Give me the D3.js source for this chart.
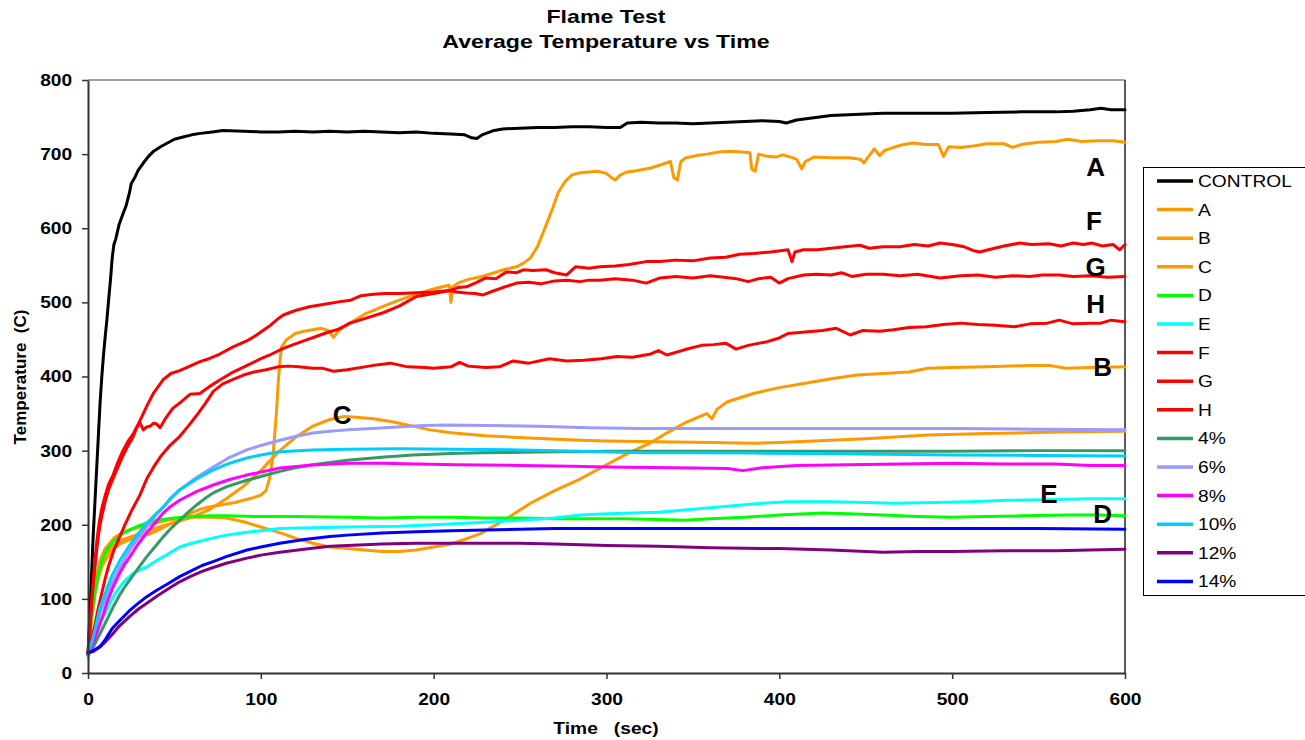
<!DOCTYPE html>
<html>
<head>
<meta charset="utf-8">
<script src="https://cdn.jsdelivr.net/npm/d3@7"></script>
<style>
  body { margin: 0; background: #fff; }
  svg { display: block; font-family: Arial, "Liberation Sans", sans-serif; }
</style>
</head>
<body>
<svg width="1305" height="740"></svg>
<script>
// ---- data: [time (sec), temperature (C)] ----
var control = [[0,25],[1,75],[2,130],[3,185],[4,230],[5,275],[6,320],[7,365],[8,400],[9,430],[10,455],[11,478],[12,505],[13,530],[14,560],[15,578],[16,585],[17,595],[18,605],[20,618],[22,630],[24,648],[25,660],[27,668],[29,678],[32,688],[35,697],[38,704],[42,710],[46,715],[50,720],[55,723],[60,726],[65,728],[72,730],[78,732],[90,731],[100,730],[110,730],[120,731],[130,730],[140,731],[150,730],[160,731],[170,730],[180,729],[190,730],[200,728],[210,727],[218,726],[222,722],[225,721],[228,726],[235,732],[240,734],[250,735],[260,736],[270,736],[280,737],[290,737],[300,736],[308,736],[312,742],[320,743],[330,742],[340,742],[350,741],[360,742],[370,743],[380,744],[390,745],[400,744],[404,742],[410,746],[420,749],[430,752],[440,753],[450,754],[460,755],[480,755],[500,755],[520,756],[540,757],[560,757],[570,758],[580,760],[586,762],[592,760],[600,760]];

var seriesA = [[0,25],[2,70],[4,105],[6,128],[8,143],[10,152],[13,162],[16,170],[20,176],[25,181],[30,184],[35,187],[40,192],[45,198],[50,204],[55,210],[60,216],[65,221],[70,224],[75,226],[80,228],[85,230],[90,233],[95,236],[100,240],[103,246],[105,262],[107,292],[109,350],[110,390],[111,420],[112,440],[115,450],[120,458],[125,461],[130,463],[135,465],[139,462],[142,453],[145,462],[150,470],[155,477],[160,484],[165,489],[170,494],[180,503],[190,511],[200,518],[205,521],[209,523],[210,500],[211,521],[215,527],[220,531],[228,535],[235,540],[242,545],[248,548],[252,553],[256,560],[260,575],[263,592],[266,610],[269,628],[272,648],[276,663],[280,672],[285,675],[290,676],[295,677],[300,674],[303,668],[305,665],[308,672],[312,676],[318,678],[325,681],[332,686],[337,690],[339,668],[341,665],[343,690],[346,695],[352,698],[358,700],[365,703],[372,704],[378,703],[383,702],[384,680],[386,677],[388,700],[393,697],[398,696],[402,699],[408,695],[410,693],[413,680],[415,690],[420,696],[430,695],[440,695],[447,693],[449,688],[451,695],[455,707],[458,698],[461,705],[470,712],[477,715],[485,713],[492,713],[495,697],[498,710],[505,709],[512,711],[520,714],[530,714],[535,709],[540,713],[550,716],[560,717],[567,720],[575,717],[585,718],[593,718],[600,716]];

var seriesB = [[0,25],[2,80],[4,118],[6,142],[8,158],[10,168],[15,182],[20,190],[30,197],[40,203],[50,208],[60,210],[70,210],[80,209],[90,204],[100,197],[110,190],[120,182],[130,175],[140,170],[150,168],[160,166],[170,164],[180,164],[190,166],[200,170],[210,174],[220,182],[227,188],[240,205],[256,229],[270,246],[285,262],[300,281],[312,296],[325,310],[335,324],[345,337],[358,350],[361,343],[364,356],[370,366],[385,377],[400,385],[415,391],[430,397],[445,402],[460,404],[475,406],[486,411],[500,412],[520,413],[546,415],[556,415],[566,411],[580,412],[600,413]];

var seriesC = [[0,25],[2,72],[4,110],[6,135],[8,150],[10,160],[15,172],[20,180],[30,188],[40,196],[50,203],[60,210],[70,220],[80,235],[90,252],[100,273],[110,298],[120,318],[130,333],[140,342],[148,346],[155,345],[165,343],[176,339],[190,332],[198,328],[210,324],[230,320],[246,318],[265,316],[285,314],[300,313],[330,312],[360,311],[385,310],[400,311],[420,313],[450,316],[486,321],[520,323],[560,325],[600,326]];

var seriesD = [[0,25],[2,75],[4,110],[6,135],[8,150],[10,162],[12,170],[15,178],[20,188],[25,194],[30,199],[35,203],[40,206],[50,209],[60,211],[70,212],[80,212],[100,211],[120,211],[150,210],[170,209],[190,210],[210,210],[230,209],[250,209],[270,208],[290,208],[310,208],[330,207],[345,206],[360,208],[380,210],[400,213],[425,216],[440,215],[460,213],[480,211],[500,210],[520,211],[540,212],[566,213],[585,213],[600,212]];

var seriesE = [[0,20],[2,40],[4,55],[6,65],[8,73],[10,80],[13,96],[16,108],[19,118],[22,126],[26,134],[30,139],[34,143],[40,152],[46,160],[53,170],[60,175],[72,182],[80,186],[92,190],[100,192],[111,195],[130,196],[150,197],[180,198],[200,200],[227,203],[250,206],[270,209],[285,213],[300,215],[330,217],[345,220],[370,225],[390,229],[405,231],[430,231],[450,230],[466,229],[490,230],[510,231],[532,233],[560,234],[580,235],[600,235]];

var seriesF = [[0,25],[1,60],[2,95],[3,125],[4,150],[5,175],[6,195],[7,210],[8,222],[10,240],[12,255],[14.5,267],[17,283],[20,299],[23,312],[26,322],[30,340],[34,360],[38,378],[43.6,396],[48,404],[53,408],[58,413],[64.8,420],[70,424],[76,430],[84,440],[91.8,448],[97.6,456],[100,460],[105,468],[110,478],[113,483],[120,489],[128,494],[136,497],[145.8,501],[152,503],[158,509],[165,511],[172,512],[180.5,512],[190,513],[199.6,514],[209.5,516],[214,520],[219,521],[225,527],[230,533],[236,532],[242,541],[248,540],[252,544],[257.5,543],[265,544],[270,540],[277,537],[282,548],[290,546],[296,548],[305,549],[313,551],[323,555],[331,555],[340,557],[350,556],[360,560],[369,561],[377,565],[385,566],[395,568],[405,571],[407.3,555],[409,568],[414,571],[422,571],[430,573],[438,575],[446.7,577],[452,573],[460,575],[469.8,575],[478,578],[486,576],[493,580],[500,578],[507,575],[512,570],[516,568],[521,571],[530,576],[539,580],[546,578],[556,579],[563,576],[570,580],[576,578],[581,580],[587,576],[593,578],[597,571],[600,578]];

var seriesG = [[0,25],[1,55],[2,90],[3,118],[4,142],[5,165],[6,185],[7,200],[8,212],[10,232],[12,248],[14.5,262],[17,276],[20,292],[23,306],[26,318],[28,330],[30,338],[32,328],[34,332],[36,333],[38,337],[39.7,336],[41.7,331],[45,344],[49,357],[54,366],[59,376],[64.8,377],[70,386],[76,395],[84,406],[93,416],[100,424],[106,430],[113,438],[120,444],[126,449],[132,454],[138,459],[145,464],[151.6,472],[160,478],[170.8,486],[180,495],[190,508],[200,512],[209.5,516],[213,514],[219,512.6],[224,512],[228.6,510],[234,515],[240,520],[248,526],[255,527],[262,525],[270,529],[277,530],[284.7,528],[290,530],[296,530],[305,532],[315,530],[323,526],[331,533],[340,535],[350,533],[360,536],[368,534],[375,532],[382,528],[388,532],[395,534],[400,526],[405,532],[414,537],[422,538],[430,537],[436,540],[442,535],[450,538],[460,538],[470,536],[480,538],[493,533],[505,536],[515,537],[525,534],[535,536],[545,535],[552,537],[562,537],[570,535],[580,536],[590,534],[600,535]];

var seriesH = [[0,25],[2,45],[4,65],[6,88],[8,108],[10,128],[12,145],[15,166],[18,182],[21,198],[25,218],[30,240],[34,262],[38,278],[42,292],[47,306],[53,319],[58,333],[63,348],[68,364],[72.5,380],[78,390],[84,396],[90,402],[96,406],[103,409],[110,413],[116,414],[122,413],[130,411],[136,411],[142,407],[150,409],[160,413],[168,416],[175,418],[185,413],[195,412],[200,411],[210,413],[215,419],[220,414],[230,412],[238,413],[246,421],[255,418],[267,424],[277,421],[287,422],[297,424],[306,427],[315,426],[325,430],[330,435],[335,429],[345,436],[355,442],[362,443],[369,445],[375,437],[382,442],[393,447],[400,452],[405,458],[415,460],[425,462],[433,465],[441,456],[448,462],[458,461],[466,463],[475,466],[485,467],[495,470],[505,472],[515,470],[525,469],[536,467],[545,471],[555,472],[562,476],[570,471],[580,472],[586,472],[592,476],[600,474]];

var pct4 = [[0,25],[3,35],[5,44],[8,58],[11,72],[14.5,89],[18,104],[21,115],[24,125],[29,141],[34,157],[39,171],[43.6,184],[48,195],[53,206],[58,217],[63,227],[68,236],[72.5,243],[80,251],[91.8,260],[100,265],[111,272],[120,277],[130,281],[140,284],[150,287],[170,291],[188,294],[210,296],[227,297],[260,298],[300,299],[350,299],[405,299],[450,299],[500,299],[550,300],[600,300]];

var pct6 = [[0,25],[3,45],[5,62],[7,81],[10,100],[14,122],[18.5,143],[24,165],[29,182],[34,197],[39,212],[43.6,224],[48,236],[53,247],[63,264],[72.5,278],[82,291],[91.8,301],[100,307],[111,314],[120,319],[130,323.7],[140,326],[150,328],[165,330],[178.6,332],[195,334],[207.5,334.6],[230,334],[260,333],[290,331],[320,330],[350,330],[400,330],[450,330],[500,330],[550,329],[600,328]];

var pct8 = [[0,25],[3,40],[6,60],[9,80],[11,95],[14.5,116],[18,133],[21,146],[24.3,157],[29,174],[34,189],[39,203],[43.6,216],[48,225],[53,233],[63,245],[72.5,253.6],[82,261],[91.8,267],[100,271],[111,276.6],[130,280.6],[150,283],[170,283],[190,282],[213,281],[250,280],[280,279],[300,278],[340,277],[370,276],[379,273],[390,277],[410,280],[440,281],[470,282],[500,283],[530,282],[560,282],[580,280],[600,280]];

var pct10 = [[0,25],[3,48],[5,68],[7,89],[10,108],[14,132],[18.5,152],[24,172],[29,188],[34,202],[39,214],[43.6,224],[48,236],[53,247],[63,262],[72.5,274],[82,283],[91.8,290],[100,294],[111,298.6],[130,301],[150,302],[180,302.5],[213,302],[250,301],[285,299],[320,297],[350,297],[385,296.7],[420,296],[460,295],[500,294],[550,293.5],[600,292.6]];

var pct12 = [[0,27],[3,29],[7,35],[10,42],[14,52],[18,63],[24,76],[29,86],[34,94],[40,104],[46,113],[53,123],[60,131],[66,137],[72,142],[80,148],[92,155],[100,159],[111,163],[125,167],[140,171],[150,172],[170,174],[190,175],[210,175],[230,175],[250,175],[270,174],[285,173],[300,172],[330,171],[360,169],[390,168],[400,168],[430,166],[460,163],[480,164],[500,164],[530,165],[560,165],[580,166],[600,167]];

var pct14 = [[0,28],[3,30],[7,36],[10,45],[14,60],[18,70],[24,84],[29,94],[34,103],[40,112],[46,120],[53,130],[60,138],[66,145],[72,150],[80,157],[92,166],[100,170],[111,175],[125,180],[140,184],[150,186],[170,189],[190,190.5],[210,192],[230,193],[250,194],[270,195],[300,195],[330,195],[360,195],[400,195],[450,195],[500,195],[550,195],[600,194]];

var seriesNames = ["CONTROL", "A", "B", "C", "D", "E", "F", "G", "H", "4%", "6%", "8%", "10%", "12%", "14%"];
var seriesData = [control, seriesA, seriesB, seriesC, seriesD, seriesE, seriesF, seriesG, seriesH, pct4, pct6, pct8, pct10, pct12, pct14];
var seriesColors = ["#000000", "#FF9900", "#FF9900", "#FF9900", "#00FF00", "#00FFFF", "#FF0000", "#FF0000", "#FF0000",
                    "#339966", "#9999FF", "#FF00FF", "#00CCFF", "#800080", "#0000FF"];

// letters written next to curves: [text, time, temperature]
var curveLabels = [["A", 583, 683], ["F", 582, 610], ["G", 583, 549], ["H", 583, 499], ["B", 587, 413],
                   ["C", 147, 349], ["E", 556, 242], ["D", 587, 215]];

var xTicks = [0, 100, 200, 300, 400, 500, 600];
var yTicks = [0, 100, 200, 300, 400, 500, 600, 700, 800];

// ---- drawing ----
var svg = d3.select("svg");
var margin = { top: 80, left: 88 },
    width = 1037,
    height = 593;
var stretch = 1.13;

var g = svg.append("g").attr("transform", `translate(${margin.left}, ${margin.top})`);

var x = d3.scaleLinear().domain([0, 600]).range([0, width]);
var y = d3.scaleLinear().domain([0, 800]).range([height, 0]);

// frame top and right
g.append("line").attr("x1", 0).attr("x2", width).attr("y1", 0).attr("y2", 0)
    .attr("stroke", "#808080").attr("stroke-width", 1.5);
g.append("line").attr("x1", width).attr("x2", width).attr("y1", 0).attr("y2", height)
    .attr("stroke", "#222").attr("stroke-width", 1.5);

var line = d3.line().x(d => x(d[0])).y(d => y(d[1]));

g.append("g")
    .selectAll("path")
    .data(seriesData)
    .enter().append("path")
        .attr("d", line)
        .attr("fill", "none")
        .attr("stroke", (d, i) => seriesColors[i])
        .attr("stroke-width", 3)
        .attr("stroke-linejoin", "round")
        .attr("stroke-linecap", "round");

var xAxis = d3.axisBottom(x).tickValues(xTicks).tickSize(6).tickSizeOuter(0).tickPadding(14);
var yAxis = d3.axisLeft(y).tickValues(yTicks).tickSize(6).tickSizeOuter(0);

var gx = g.append("g")
    .attr("transform", `translate(0, ${height})`)
    .call(xAxis);
var gy = g.append("g").call(yAxis);

[gx, gy].forEach(function(ax) {
    ax.select(".domain").attr("stroke", "#333").attr("stroke-width", 2);
    ax.selectAll(".tick line").attr("stroke", "#333").attr("stroke-width", 1.5);
    ax.selectAll(".tick text")
        .attr("fill", "#000")
        .attr("font-size", 17)
        .attr("font-weight", "bold")
        .attr("font-family", "Arial, 'Liberation Sans', sans-serif");
});
gx.selectAll(".tick text").attr("transform", `scale(${stretch},1)`);
gy.selectAll(".tick text").attr("x", -14).attr("transform", `scale(${stretch},1)`);

// curve letters
g.append("g")
    .selectAll("text")
    .data(curveLabels)
    .enter().append("text")
        .attr("x", d => x(d[1]))
        .attr("y", d => y(d[2]) + 9.5)
        .attr("text-anchor", "middle")
        .attr("font-size", 26)
        .attr("font-weight", "bold")
        .text(d => d[0]);

// titles
var title = svg.append("g").attr("font-weight", "bold").attr("text-anchor", "middle");
title.append("text")
    .attr("transform", "translate(606, 22.5) scale(1.25,1)")
    .attr("font-size", 18.5)
    .text("Flame Test");
title.append("text")
    .attr("transform", "translate(606, 48.3) scale(1.25,1)")
    .attr("font-size", 18.5)
    .text("Average Temperature vs Time");

svg.append("text")
    .attr("transform", `translate(606, 734) scale(${stretch},1)`)
    .attr("text-anchor", "middle")
    .attr("font-size", 17)
    .attr("font-weight", "bold")
    .style("white-space", "pre")
    .text("Time   (sec)");

svg.append("text")
    .attr("transform", "translate(26, 377) rotate(-90)")
    .attr("text-anchor", "middle")
    .attr("font-size", 17)
    .attr("font-weight", "bold")
    .style("white-space", "pre")
    .text("Temperature  (C)");

// legend
var legend = svg.append("g").attr("transform", "translate(1143, 167)");
legend.append("rect")
    .attr("x", 0.5).attr("y", 0.5)
    .attr("width", 165).attr("height", 428)
    .attr("fill", "#fff")
    .attr("stroke", "#000")
    .attr("stroke-width", 1);

var items = legend.selectAll("g.item")
    .data(seriesNames)
    .enter().append("g")
        .attr("class", "item")
        .attr("transform", (d, i) => `translate(0, ${14 + i * 28.6})`);

items.append("line")
    .attr("x1", 14).attr("x2", 50)
    .attr("stroke", (d, i) => seriesColors[i])
    .attr("stroke-width", 3.5);

items.append("text")
    .attr("transform", `translate(55, 6) scale(${stretch},1)`)
    .attr("font-size", 17)
    .text(d => d);
</script>
</body>
</html>
